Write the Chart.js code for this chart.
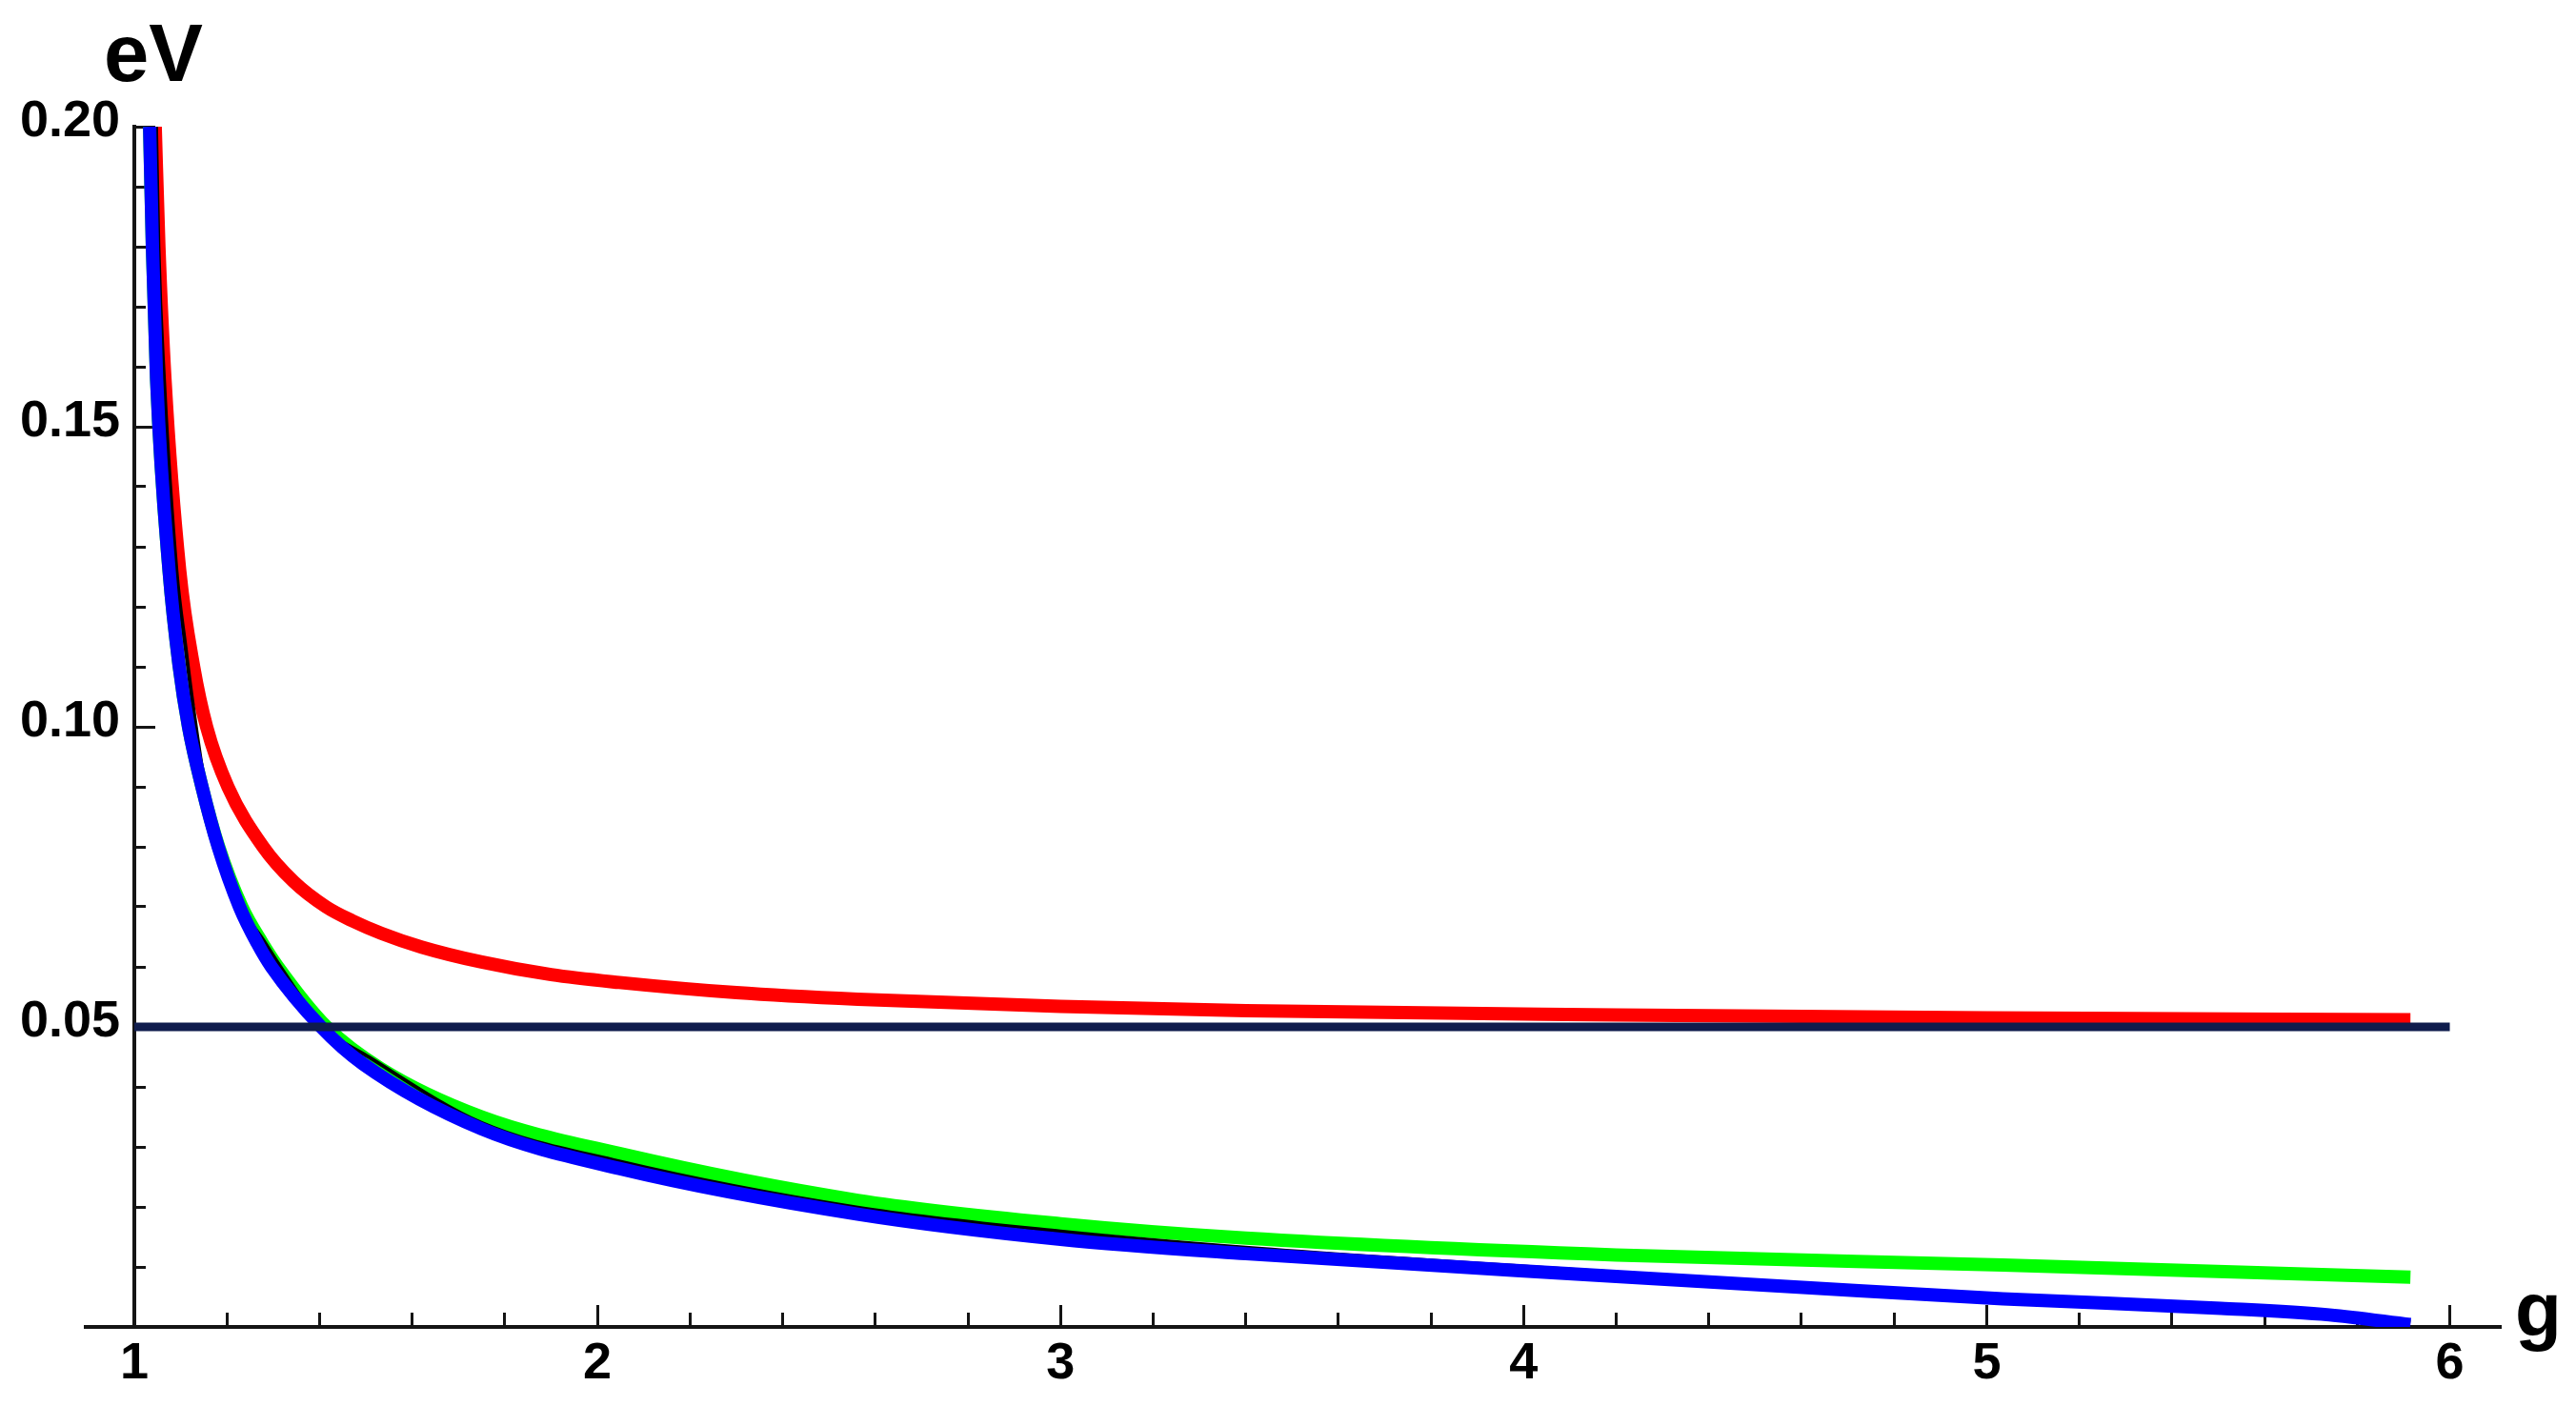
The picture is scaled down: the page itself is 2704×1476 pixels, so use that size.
<!DOCTYPE html>
<html>
<head>
<meta charset="utf-8">
<script src="https://cdn.jsdelivr.net/npm/chart.js@4.4.1/dist/chart.umd.min.js"></script>
<style>
  html, body { margin: 0; padding: 0; background: #ffffff; }
  canvas { display: block; }
</style>
</head>
<body>
<canvas id="myChart" width="2704" height="1476"></canvas>
<script>
// curves: g on x, eV on y

const gRed = [1.045, 1.053, 1.066, 1.098, 1.128, 1.156, 1.202, 1.278, 1.344, 1.414, 1.47, 1.533, 1.62, 1.75, 1.9, 2.047, 2.3, 2.562, 3.0, 3.4, 4.2, 5.0, 5.915];
const vRed = [0.200, 0.180, 0.158, 0.126, 0.110, 0.100, 0.090, 0.080, 0.0742, 0.0700, 0.0677, 0.0656, 0.0633, 0.0608, 0.0587, 0.0574, 0.0557, 0.0546, 0.0534, 0.0527, 0.0520, 0.0515, 0.0512];

const gGreen = [1.033, 1.039, 1.048, 1.075, 1.097, 1.117, 1.146, 1.182, 1.232, 1.276, 1.31, 1.415, 1.533, 1.75, 2.047, 2.562, 3.0, 3.4, 4.2, 5.035, 5.915];
const vGreen = [0.200, 0.180, 0.158, 0.126, 0.110, 0.100, 0.090, 0.080, 0.070, 0.064, 0.060, 0.050, 0.0430, 0.0350, 0.0289, 0.0211, 0.0172, 0.0148, 0.0120, 0.0103, 0.0083];

const gBlack = [1.047, 1.052, 1.064, 1.091, 1.111, 1.124, 1.153, 1.188, 1.232, 1.278, 1.318, 1.409, 1.508, 1.75, 2.047, 2.562, 3.0, 3.4, 4.2, 5.035, 5.506, 5.74, 5.915];
const vBlack = [0.200, 0.180, 0.158, 0.126, 0.113, 0.105, 0.090, 0.080, 0.070, 0.0645, 0.0597, 0.050, 0.0449, 0.0340, 0.0276, 0.0199, 0.0159, 0.0132, 0.0091, 0.0052, 0.0037, 0.0025, 0.0008];

const gBlue = [1.033, 1.039, 1.048, 1.075, 1.097, 1.117, 1.146, 1.181, 1.227, 1.265, 1.296, 1.403, 1.494, 1.75, 2.047, 2.562, 3.0, 3.4, 4.2, 4.62, 5.035, 5.506, 5.74, 5.915];
const vBlue = [0.200, 0.180, 0.158, 0.126, 0.110, 0.100, 0.090, 0.080, 0.070, 0.064, 0.060, 0.050, 0.0438, 0.0330, 0.0264, 0.0188, 0.0146, 0.0122, 0.0084, 0.0065, 0.0047, 0.0031, 0.0020, 0.0004];

// horizontal reference line
const gLine = [1, 6];
const vLine = [0.05, 0.05];

// axis ranges and ticks
const X_MIN = 0.895;
const X_MAX = 6.11;
const Y_MIN = 0;
const Y_MAX = 0.2;
const X_MAJOR = 1;
const X_MINOR = 0.2;
const Y_MAJOR = 0.05;
const Y_MINOR = 0.01;


// styles

const tickFont = { family: "'Liberation Sans', Arial, sans-serif", size: 54, weight: 'bold' };
const axisColor = '#141414';

function toPoints(xs, ys) {
    return xs.map((x, i) => ({ x: x, y: ys[i] }));
}

function curve(label, xs, ys, color, width, order) {
    return {
        label: label,
        data: toPoints(xs, ys),
        borderColor: color,
        backgroundColor: color,
        borderWidth: width,
        pointRadius: 0,
        cubicInterpolationMode: 'monotone',
        order: order,
    };
}

const data = {
    datasets: [
        curve('0.05', gLine, vLine, '#0f1c4d', 9, 0),
        curve('blue', gBlue, vBlue, '#0000ff', 14, 1),
        curve('black', gBlack, vBlack, '#000000', 4, 2),
        curve('green', gGreen, vGreen, '#00ff00', 14, 3),
        curve('red', gRed, vRed, '#ff0000', 14, 4),
    ]
};

// axis titles "eV" and "g"
const axisTitles = {
    id: 'axisTitles',
    afterDraw(chart) {
        const { ctx, scales, chartArea } = chart;
        ctx.save();
        ctx.fillStyle = '#000000';
        ctx.textAlign = 'left';
        ctx.textBaseline = 'alphabetic';
        ctx.font = "bold 85px 'Liberation Sans', Arial, sans-serif";
        ctx.fillText('eV', scales.x.getPixelForValue(1) - 32, scales.y.getPixelForValue(Y_MAX) - 48);
        ctx.font = "bold 80px 'Liberation Sans', Arial, sans-serif";
        ctx.fillText('g', chartArea.right + 15, scales.y.getPixelForValue(0) + 9);
        ctx.restore();
    }
};

const config = {
    type: 'line',
    data: data,
    options: {
        responsive: false,
        animation: false,
        layout: {
            padding: { left: 90, right: 79, top: 133, bottom: 83 }
        },
        plugins: {
            legend: { display: false },
            tooltip: { enabled: false },
        },
        scales: {
            x: {
                type: 'linear',
                axis: 'x',
                position: { y: 0 },
                min: X_MIN,
                max: X_MAX,
                grid: { drawOnChartArea: false, tickLength: -25, tickWidth: 3, tickColor: axisColor },
                border: { display: true, color: axisColor, width: 4 },
                ticks: {
                    stepSize: X_MAJOR,
                    includeBounds: false,
                    autoSkip: false,
                    maxRotation: 0,
                    padding: 32,
                    color: '#000000',
                    font: tickFont,
                },
            },
            xMinor: {
                type: 'linear',
                axis: 'x',
                position: { y: 0 },
                min: X_MIN,
                max: X_MAX,
                grid: { drawOnChartArea: false, tickLength: -15, tickWidth: 3, tickColor: axisColor },
                border: { display: false },
                ticks: { stepSize: X_MINOR, includeBounds: false, autoSkip: false, callback: () => '' },
            },
            y: {
                type: 'linear',
                axis: 'y',
                position: { x: 1 },
                min: Y_MIN,
                max: Y_MAX,
                grid: { drawOnChartArea: false, tickLength: -24, tickWidth: 3, tickColor: axisColor },
                border: { display: true, color: axisColor, width: 4 },
                ticks: {
                    stepSize: Y_MAJOR,
                    includeBounds: false,
                    autoSkip: false,
                    labelOffset: -5,
                    color: '#000000',
                    font: tickFont,
                    // trailing space keeps the label clear of the axis line
                    callback: (value) => value === 0 ? '' : value.toFixed(2) + ' ',
                },
            },
            yMinor: {
                type: 'linear',
                axis: 'y',
                position: { x: 1 },
                min: Y_MIN,
                max: Y_MAX,
                grid: { drawOnChartArea: false, tickLength: -12, tickWidth: 3, tickColor: axisColor },
                border: { display: false },
                ticks: { stepSize: Y_MINOR, includeBounds: false, autoSkip: false, callback: () => '' },
            },
        },
    },
    plugins: [axisTitles]
};

var ctx = document.getElementById('myChart').getContext('2d');
var myChart = new Chart(ctx, config);
</script>
</body>
</html>
